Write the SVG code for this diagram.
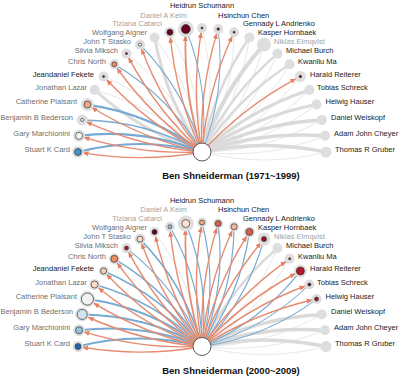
<svg xmlns="http://www.w3.org/2000/svg" width="399" height="378" viewBox="0 0 399 378">
<style>
text{font-family:"Liberation Sans",Arial,sans-serif;font-size:7.5px}
.e{text-anchor:end}
.m{text-anchor:middle}
.lg{fill:#6f6f6f}
.ll{fill:#a3a3a3}
.lk{fill:#1a1a1a}
.title{font-size:9.5px;font-weight:bold;text-anchor:middle;fill:#111}
.halo{fill:#dedede}
.in{stroke:#333;stroke-width:0.7}
.g{fill:none;stroke:#dadada;stroke-width:3}
.gt{fill:none;stroke:#e3e3e3;stroke-width:0.8}
.b{fill:none;stroke:#76aad2;stroke-width:1.2}
.bw{stroke-width:2.2}
.r{fill:none;stroke:#e58c70;stroke-width:1.4;marker-end:url(#ah)}
.hub{fill:#fff;stroke:#555;stroke-width:1}
</style>
<defs>
<marker id="ah" markerUnits="userSpaceOnUse" markerWidth="6" markerHeight="5" refX="5.6" refY="2.5" orient="auto" viewBox="0 0 6 5"><path d="M0,0L6,2.5L0,5Z" fill="#e67f60"/></marker>
</defs>

<g id="diagram-1971-1999">
<g id="connectors-top">
<path class="gt" d="M78,152A248,248 0 0,1 202,152" transform="rotate(30 202 152)"/>
<path class="gt" d="M78,152A248,248 0 0,1 202,152" transform="rotate(37.5 202 152)"/>
<path class="gt" d="M78,152A248,248 0 0,1 202,152" transform="rotate(52.5 202 152)"/>
<path class="gt" d="M78,152A248,248 0 0,1 202,152" transform="rotate(67.5 202 152)"/>
<path class="gt" d="M78,152A248,248 0 0,1 202,152" transform="rotate(75 202 152)"/>
<path class="gt" d="M78,152A248,248 0 0,1 202,152" transform="rotate(90 202 152)"/>
<path class="gt" d="M78,152A248,248 0 0,1 202,152" transform="rotate(105 202 152)"/>
<path class="gt" d="M78,152A248,248 0 0,1 202,152" transform="rotate(112.5 202 152)"/>
<path class="gt" d="M78,152A248,248 0 0,1 202,152" transform="rotate(120 202 152)"/>
<path class="gt" d="M78,152A248,248 0 0,1 202,152" transform="rotate(127.5 202 152)"/>
<path class="gt" d="M78,152A248,248 0 0,1 202,152" transform="rotate(135 202 152)"/>
<path class="gt" d="M78,152A248,248 0 0,1 202,152" transform="rotate(142.5 202 152)"/>
<path class="gt" d="M78,152A248,248 0 0,1 202,152" transform="rotate(150 202 152)"/>
<path class="gt" d="M78,152A248,248 0 0,1 202,152" transform="rotate(157.5 202 152)"/>
<path class="gt" d="M78,152A248,248 0 0,1 202,152" transform="rotate(165 202 152)"/>
<path class="gt" d="M78,152A248,248 0 0,1 202,152" transform="rotate(172.5 202 152)"/>
<path class="gt" d="M78,152A248,248 0 0,1 202,152" transform="rotate(180 202 152)"/>
<path class="g" d="M202,152A300,300 0 0,1 78,152" transform="rotate(30 202 152)"/>
<path class="g" d="M202,152A300,300 0 0,1 78,152" transform="rotate(67.5 202 152)"/>
<path class="g" d="M202,152A300,300 0 0,1 78,152" transform="rotate(112.5 202 152)" style="stroke-width:2.5"/>
<path class="g" d="M202,152A300,300 0 0,1 78,152" transform="rotate(120 202 152)" style="stroke-width:4"/>
<path class="g" d="M202,152A300,300 0 0,1 78,152" transform="rotate(127.5 202 152)" style="stroke-width:2.5"/>
<path class="g" d="M202,152A300,300 0 0,1 78,152" transform="rotate(135 202 152)" style="stroke-width:2.5"/>
<path class="g" d="M202,152A300,300 0 0,1 78,152" transform="rotate(150 202 152)"/>
<path class="g" d="M202,152A300,300 0 0,1 78,152" transform="rotate(157.5 202 152)"/>
<path class="g" d="M202,152A300,300 0 0,1 78,152" transform="rotate(165 202 152)" style="stroke-width:3.5"/>
<path class="g" d="M202,152A300,300 0 0,1 78,152" transform="rotate(172.5 202 152)" style="stroke-width:3.5"/>
<path class="g" d="M202,152A300,300 0 0,1 78,152" transform="rotate(180 202 152)" style="stroke-width:3.5"/>
<path class="b bw" d="M78,152A248,248 0 0,1 202,152"/>
<path class="b bw" d="M78,152A248,248 0 0,1 202,152" transform="rotate(7.5 202 152)"/>
<path class="b" d="M78,152A248,248 0 0,1 202,152" transform="rotate(15 202 152)" style="stroke-width:1.5"/>
<path class="b bw" d="M78,152A248,248 0 0,1 202,152" transform="rotate(22.5 202 152)"/>
<path class="b" d="M78,152A248,248 0 0,1 202,152" transform="rotate(45 202 152)"/>
<path class="b" d="M78,152A248,248 0 0,1 202,152" transform="rotate(60 202 152)"/>
<path class="b" d="M78,152A248,248 0 0,1 202,152" transform="rotate(82.5 202 152)" style="stroke-width:1"/>
<path class="b" d="M78,152A248,248 0 0,1 202,152" transform="rotate(97.5 202 152)" style="stroke-width:1"/>
<path class="r" d="M202,152A350,350 0 0,1 82.92,152.89"/>
<path class="r" d="M202,152A350,350 0 0,1 82.92,152.89" transform="rotate(7.5 202 152)"/>
<path class="r" d="M202,152A350,350 0 0,1 82.43,152.8" transform="rotate(15 202 152)"/>
<path class="r" d="M202,152A350,350 0 0,1 82.92,152.89" transform="rotate(22.5 202 152)"/>
<path class="r" d="M202,152A350,350 0 0,1 82.43,152.8" transform="rotate(37.5 202 152)"/>
<path class="r" d="M202,152A350,350 0 0,1 82.43,152.8" transform="rotate(45 202 152)"/>
<path class="r" d="M202,152A350,350 0 0,1 82.43,152.8" transform="rotate(52.5 202 152)"/>
<path class="r" d="M202,152A350,350 0 0,1 82.43,152.8" transform="rotate(60 202 152)"/>
<path class="r" d="M202,152A350,350 0 0,1 82.92,152.89" transform="rotate(75 202 152)"/>
<path class="r" d="M202,152A350,350 0 0,1 84.4,153.15" transform="rotate(82.5 202 152)" style="stroke-width:1.8"/>
<path class="r" d="M202,152A350,350 0 0,1 82.43,152.8" transform="rotate(90 202 152)"/>
<path class="r" d="M202,152A350,350 0 0,1 82.43,152.8" transform="rotate(97.5 202 152)"/>
<path class="r" d="M202,152A350,350 0 0,1 82.43,152.8" transform="rotate(105 202 152)"/>
<path class="r" d="M202,152A350,350 0 0,1 82.92,152.89" transform="rotate(142.5 202 152)"/>
</g>
<g id="t-stuart-k-card"><circle class="halo" cx="78" cy="152" r="6"/><circle class="in" cx="78" cy="152" r="3.5" fill="#4393c3"/><text class="e lg" x="70" y="151.9">Stuart K Card</text></g>
<g id="t-gary-marchionini"><circle class="halo" cx="79.06" cy="135.81" r="6"/><circle class="in" cx="79.06" cy="135.81" r="3.5" fill="#f7f7f7"/><text class="e lg" x="70" y="135.9">Gary Marchionini</text></g>
<g id="t-benjamin-b-bederson"><circle class="halo" cx="82.22" cy="119.91" r="5.5"/><circle class="in" cx="82.22" cy="119.91" r="1.6" fill="#f7f7f7"/><text class="e lg" x="73" y="119.9">Benjamin B Bederson</text></g>
<g id="t-catherine-plaisant"><circle class="halo" cx="87.44" cy="104.55" r="6.5"/><circle class="in" cx="87.44" cy="104.55" r="3.5" fill="#f4a582"/><text class="e lg" x="77" y="104.3">Catherine Plaisant</text></g>
<g id="t-jonathan-lazar"><circle class="halo" cx="94.61" cy="90" r="5"/><text class="e lg" x="87" y="90.3">Jonathan Lazar</text></g>
<g id="t-jeandaniel-fekete"><circle class="halo" cx="103.62" cy="76.51" r="5"/><circle class="in" cx="103.62" cy="76.51" r="1" fill="#67001f"/><text class="e lk" x="94" y="76.6">Jeandaniel Fekete</text></g>
<g id="t-chris-north"><circle class="halo" cx="114.32" cy="64.32" r="5"/><circle class="in" cx="114.32" cy="64.32" r="2.5" fill="#ef8a62"/><text class="e lg" x="106" y="64.3">Chris North</text></g>
<g id="t-silvia-miksch"><circle class="halo" cx="126.51" cy="53.62" r="5"/><circle class="in" cx="126.51" cy="53.62" r="1" fill="#67001f"/><text class="e lg" x="118" y="53.3">Silvia Miksch</text></g>
<g id="t-john-t-stasko"><circle class="halo" cx="140" cy="44.61" r="5"/><circle class="in" cx="140" cy="44.61" r="1.6" fill="#f7f7f7"/><text class="e lg" x="131" y="44.3">John T Stasko</text></g>
<g id="t-wolfgang-aigner"><circle class="halo" cx="154.55" cy="37.44" r="5"/><text class="e lg" x="147" y="35.4">Wolfgang Aigner</text></g>
<g id="t-tiziana-catarci"><circle class="halo" cx="169.91" cy="32.22" r="5.5"/><circle class="in" cx="169.91" cy="32.22" r="3" fill="#67001f"/><text class="e ll" x="162" y="26.4">Tiziana Catarci</text></g>
<g id="t-daniel-a-keim"><circle class="halo" cx="185.81" cy="29.06" r="8"/><circle class="in" cx="185.81" cy="29.06" r="4.5" fill="#67001f"/><text class="e ll" x="187" y="17.6">Daniel A Keim</text></g>
<g id="t-heidrun-schumann"><circle class="halo" cx="202" cy="28" r="5"/><circle class="in" cx="202" cy="28" r="1" fill="#67001f"/><text class="m lk" x="202" y="8.4">Heidrun Schumann</text></g>
<g id="t-hsinchun-chen"><circle class="halo" cx="218.19" cy="29.06" r="5"/><circle class="in" cx="218.19" cy="29.06" r="1.2" fill="#67001f"/><text class="lk" x="218" y="17.6">Hsinchun Chen</text></g>
<g id="t-gennady-l-andrienko"><circle class="halo" cx="234.09" cy="32.22" r="5"/><circle class="in" cx="234.09" cy="32.22" r="1" fill="#67001f"/><text class="lk" x="243" y="26.4">Gennady L Andrienko</text></g>
<g id="t-kasper-hornbaek"><circle class="halo" cx="249.45" cy="37.44" r="5"/><text class="lk" x="258" y="35.4">Kasper Hornbaek</text></g>
<g id="t-niklas-elmqvist"><circle class="halo" cx="264" cy="44.61" r="7"/><text class="ll" x="274" y="44.3">Niklas Elmqvist</text></g>
<g id="t-michael-burch"><circle class="halo" cx="277.49" cy="53.62" r="5"/><text class="lk" x="286" y="53.3">Michael Burch</text></g>
<g id="t-kwanliu-ma"><circle class="halo" cx="289.68" cy="64.32" r="5"/><text class="lk" x="298" y="64.3">Kwanliu Ma</text></g>
<g id="t-harald-reiterer"><circle class="halo" cx="300.38" cy="76.51" r="5.5"/><circle class="in" cx="300.38" cy="76.51" r="1.2" fill="#67001f"/><text class="lk" x="310" y="76.6">Harald Reiterer</text></g>
<g id="t-tobias-schreck"><circle class="halo" cx="309.39" cy="90" r="5"/><text class="lk" x="317" y="90.3">Tobias Schreck</text></g>
<g id="t-helwig-hauser"><circle class="halo" cx="316.56" cy="104.55" r="5"/><text class="lk" x="325.5" y="104.3">Helwig Hauser</text></g>
<g id="t-daniel-weiskopf"><circle class="halo" cx="321.78" cy="119.91" r="5"/><text class="lk" x="331" y="119.9">Daniel Weiskopf</text></g>
<g id="t-adam-john-cheyer"><circle class="halo" cx="324.94" cy="135.81" r="5"/><text class="lk" x="334" y="135.9">Adam John Cheyer</text></g>
<g id="t-thomas-r-gruber"><circle class="halo" cx="326" cy="152" r="5.5"/><text class="lk" x="335" y="151.9">Thomas R Gruber</text></g>
<g id="t-ben-shneiderman"><circle class="hub" cx="202" cy="152" r="9"/><text class="title" x="231" y="179.4">Ben Shneiderman (1971~1999)</text></g>
</g>

<g id="diagram-2000-2009" transform="translate(0,194.5)">
<g id="connectors-bottom">
<path class="gt" d="M78,152A248,248 0 0,1 202,152" transform="rotate(67.5 202 152)"/>
<path class="gt" d="M78,152A248,248 0 0,1 202,152" transform="rotate(127.5 202 152)"/>
<path class="gt" d="M78,152A248,248 0 0,1 202,152" transform="rotate(135 202 152)"/>
<path class="gt" d="M78,152A248,248 0 0,1 202,152" transform="rotate(165 202 152)"/>
<path class="gt" d="M78,152A248,248 0 0,1 202,152" transform="rotate(172.5 202 152)"/>
<path class="gt" d="M78,152A248,248 0 0,1 202,152" transform="rotate(180 202 152)"/>
<path class="g" d="M202,152A300,300 0 0,1 78,152" transform="rotate(127.5 202 152)" style="stroke-width:2.5"/>
<path class="g" d="M202,152A300,300 0 0,1 78,152" transform="rotate(165 202 152)" style="stroke-width:3.5"/>
<path class="g" d="M202,152A300,300 0 0,1 78,152" transform="rotate(172.5 202 152)" style="stroke-width:3.5"/>
<path class="g" d="M202,152A300,300 0 0,1 78,152" transform="rotate(180 202 152)" style="stroke-width:3.5"/>
<path class="b bw" d="M78,152A248,248 0 0,1 202,152"/>
<path class="b bw" d="M78,152A248,248 0 0,1 202,152" transform="rotate(7.5 202 152)" style="stroke-width:2"/>
<path class="b bw" d="M78,152A248,248 0 0,1 202,152" transform="rotate(15 202 152)" style="stroke-width:2"/>
<path class="b bw" d="M78,152A248,248 0 0,1 202,152" transform="rotate(22.5 202 152)" style="stroke-width:2"/>
<path class="b" d="M78,152A248,248 0 0,1 202,152" transform="rotate(30 202 152)" style="stroke-width:1.5"/>
<path class="b" d="M78,152A248,248 0 0,1 202,152" transform="rotate(37.5 202 152)" style="stroke-width:1.5"/>
<path class="b" d="M78,152A248,248 0 0,1 202,152" transform="rotate(45 202 152)" style="stroke-width:1.5"/>
<path class="b" d="M78,152A248,248 0 0,1 202,152" transform="rotate(52.5 202 152)"/>
<path class="b" d="M78,152A248,248 0 0,1 202,152" transform="rotate(60 202 152)" style="stroke-width:1.5"/>
<path class="b" d="M78,152A248,248 0 0,1 202,152" transform="rotate(75 202 152)"/>
<path class="b" d="M78,152A248,248 0 0,1 202,152" transform="rotate(82.5 202 152)"/>
<path class="b" d="M78,152A248,248 0 0,1 202,152" transform="rotate(90 202 152)"/>
<path class="b" d="M78,152A248,248 0 0,1 202,152" transform="rotate(97.5 202 152)"/>
<path class="b" d="M78,152A248,248 0 0,1 202,152" transform="rotate(105 202 152)"/>
<path class="b" d="M78,152A248,248 0 0,1 202,152" transform="rotate(112.5 202 152)"/>
<path class="b" d="M78,152A248,248 0 0,1 202,152" transform="rotate(120 202 152)"/>
<path class="b" d="M78,152A248,248 0 0,1 202,152" transform="rotate(142.5 202 152)"/>
<path class="b" d="M78,152A248,248 0 0,1 202,152" transform="rotate(150 202 152)" style="stroke-width:1"/>
<path class="b" d="M78,152A248,248 0 0,1 202,152" transform="rotate(157.5 202 152)" style="stroke-width:1"/>
<path class="r" d="M202,152A350,350 0 0,1 82.43,152.8"/>
<path class="r" d="M202,152A350,350 0 0,1 82.92,152.89" transform="rotate(7.5 202 152)"/>
<path class="r" d="M202,152A350,350 0 0,1 84.4,153.15" transform="rotate(15 202 152)" style="stroke-width:1.7"/>
<path class="r" d="M202,152A350,350 0 0,1 85.38,153.33" transform="rotate(22.5 202 152)" style="stroke-width:1.7"/>
<path class="r" d="M202,152A350,350 0 0,1 82.92,152.89" transform="rotate(30 202 152)"/>
<path class="r" d="M202,152A350,350 0 0,1 82.43,152.8" transform="rotate(37.5 202 152)"/>
<path class="r" d="M202,152A350,350 0 0,1 82.92,152.89" transform="rotate(45 202 152)"/>
<path class="r" d="M202,152A350,350 0 0,1 82.43,152.8" transform="rotate(52.5 202 152)"/>
<path class="r" d="M202,152A350,350 0 0,1 82.43,152.8" transform="rotate(60 202 152)"/>
<path class="r" d="M202,152A350,350 0 0,1 82.43,152.8" transform="rotate(67.5 202 152)"/>
<path class="r" d="M202,152A350,350 0 0,1 82.43,152.8" transform="rotate(75 202 152)"/>
<path class="r" d="M202,152A350,350 0 0,1 83.9,153.06" transform="rotate(82.5 202 152)" style="stroke-width:1.7"/>
<path class="r" d="M202,152A350,350 0 0,1 82.43,152.8" transform="rotate(90 202 152)"/>
<path class="r" d="M202,152A350,350 0 0,1 82.43,152.8" transform="rotate(97.5 202 152)"/>
<path class="r" d="M202,152A350,350 0 0,1 82.43,152.8" transform="rotate(105 202 152)"/>
<path class="r" d="M202,152A350,350 0 0,1 82.92,152.89" transform="rotate(112.5 202 152)"/>
<path class="r" d="M202,152A350,350 0 0,1 82.43,152.8" transform="rotate(120 202 152)"/>
<path class="r" d="M202,152A350,350 0 0,1 82.43,152.8" transform="rotate(135 202 152)"/>
<path class="r" d="M202,152A350,350 0 0,1 83.41,152.97" transform="rotate(142.5 202 152)" style="stroke-width:1.7"/>
<path class="r" d="M202,152A350,350 0 0,1 82.43,152.8" transform="rotate(150 202 152)"/>
<path class="r" d="M202,152A350,350 0 0,1 82.43,152.8" transform="rotate(157.5 202 152)"/>
</g>
<g id="b-stuart-k-card"><circle class="halo" cx="78" cy="152" r="5.5"/><circle class="in" cx="78" cy="152" r="3" fill="#2166ac"/><text class="e lg" x="70" y="151.9">Stuart K Card</text></g>
<g id="b-gary-marchionini"><circle class="halo" cx="79.06" cy="135.81" r="6"/><circle class="in" cx="79.06" cy="135.81" r="3.5" fill="#92c5de"/><text class="e lg" x="70" y="135.9">Gary Marchionini</text></g>
<g id="b-benjamin-b-bederson"><circle class="halo" cx="82.22" cy="119.91" r="7"/><circle class="in" cx="82.22" cy="119.91" r="5" fill="#d1e5f0"/><text class="e lg" x="73" y="119.9">Benjamin B Bederson</text></g>
<g id="b-catherine-plaisant"><circle class="halo" cx="87.44" cy="104.55" r="8"/><circle class="in" cx="87.44" cy="104.55" r="6" fill="#f2f2f2"/><text class="e lg" x="77" y="104.3">Catherine Plaisant</text></g>
<g id="b-jonathan-lazar"><circle class="halo" cx="94.61" cy="90" r="5.5"/><circle class="in" cx="94.61" cy="90" r="3.5" fill="#fddbc7"/><text class="e lg" x="87" y="90.3">Jonathan Lazar</text></g>
<g id="b-jeandaniel-fekete"><circle class="halo" cx="103.62" cy="76.51" r="5"/><circle class="in" cx="103.62" cy="76.51" r="3" fill="#fbcfb8"/><text class="e lk" x="94" y="76.6">Jeandaniel Fekete</text></g>
<g id="b-chris-north"><circle class="halo" cx="114.32" cy="64.32" r="5.5"/><circle class="in" cx="114.32" cy="64.32" r="3.5" fill="#ef8a62"/><text class="e lg" x="106" y="64.3">Chris North</text></g>
<g id="b-silvia-miksch"><circle class="halo" cx="126.51" cy="53.62" r="5"/><circle class="in" cx="126.51" cy="53.62" r="2" fill="#b2182b"/><text class="e lg" x="118" y="53.3">Silvia Miksch</text></g>
<g id="b-john-t-stasko"><circle class="halo" cx="140" cy="44.61" r="5.5"/><circle class="in" cx="140" cy="44.61" r="3" fill="#fddbc7"/><text class="e lg" x="131" y="44.3">John T Stasko</text></g>
<g id="b-wolfgang-aigner"><circle class="halo" cx="154.55" cy="37.44" r="5"/><circle class="in" cx="154.55" cy="37.44" r="2.5" fill="#67001f"/><text class="e lg" x="147" y="35.4">Wolfgang Aigner</text></g>
<g id="b-tiziana-catarci"><circle class="halo" cx="169.91" cy="32.22" r="5"/><circle class="in" cx="169.91" cy="32.22" r="2" fill="#92c5de"/><text class="e ll" x="162" y="26.4">Tiziana Catarci</text></g>
<g id="b-daniel-a-keim"><circle class="halo" cx="185.81" cy="29.06" r="8"/><circle class="in" cx="185.81" cy="29.06" r="4" fill="#fde0d2"/><text class="e ll" x="187" y="17.6">Daniel A Keim</text></g>
<g id="b-heidrun-schumann"><circle class="halo" cx="202" cy="28" r="5"/><circle class="in" cx="202" cy="28" r="2.5" fill="#f4a582"/><text class="m lk" x="202" y="8.4">Heidrun Schumann</text></g>
<g id="b-hsinchun-chen"><circle class="halo" cx="218.19" cy="29.06" r="5"/><circle class="in" cx="218.19" cy="29.06" r="3" fill="#d6604d"/><text class="lk" x="218" y="17.6">Hsinchun Chen</text></g>
<g id="b-gennady-l-andrienko"><circle class="halo" cx="234.09" cy="32.22" r="5"/><circle class="in" cx="234.09" cy="32.22" r="3" fill="#f7b799"/><text class="lk" x="243" y="26.4">Gennady L Andrienko</text></g>
<g id="b-kasper-hornbaek"><circle class="halo" cx="249.45" cy="37.44" r="5.5"/><circle class="in" cx="249.45" cy="37.44" r="3.5" fill="#d6604d"/><text class="lk" x="258" y="35.4">Kasper Hornbaek</text></g>
<g id="b-niklas-elmqvist"><circle class="halo" cx="264" cy="44.61" r="6.5"/><circle class="in" cx="264" cy="44.61" r="2.5" fill="#a50f2b"/><text class="ll" x="274" y="44.3">Niklas Elmqvist</text></g>
<g id="b-michael-burch"><circle class="halo" cx="277.49" cy="53.62" r="5"/><text class="lk" x="286" y="53.3">Michael Burch</text></g>
<g id="b-kwanliu-ma"><circle class="halo" cx="289.68" cy="64.32" r="5"/><circle class="in" cx="289.68" cy="64.32" r="1" fill="#67001f"/><text class="lk" x="298" y="64.3">Kwanliu Ma</text></g>
<g id="b-harald-reiterer"><circle class="halo" cx="300.38" cy="76.51" r="6.5"/><circle class="in" cx="300.38" cy="76.51" r="4" fill="#b2182b"/><text class="lk" x="310" y="76.6">Harald Reiterer</text></g>
<g id="b-tobias-schreck"><circle class="halo" cx="309.39" cy="90" r="5"/><circle class="in" cx="309.39" cy="90" r="1.5" fill="#67001f"/><text class="lk" x="317" y="90.3">Tobias Schreck</text></g>
<g id="b-helwig-hauser"><circle class="halo" cx="316.56" cy="104.55" r="5"/><circle class="in" cx="316.56" cy="104.55" r="2" fill="#a50f2b"/><text class="lk" x="325.5" y="104.3">Helwig Hauser</text></g>
<g id="b-daniel-weiskopf"><circle class="halo" cx="321.78" cy="119.91" r="5"/><text class="lk" x="331" y="119.9">Daniel Weiskopf</text></g>
<g id="b-adam-john-cheyer"><circle class="halo" cx="324.94" cy="135.81" r="5"/><text class="lk" x="334" y="135.9">Adam John Cheyer</text></g>
<g id="b-thomas-r-gruber"><circle class="halo" cx="326" cy="152" r="5.5"/><text class="lk" x="335" y="151.9">Thomas R Gruber</text></g>
<g id="b-ben-shneiderman"><circle class="hub" cx="202" cy="152" r="9"/><text class="title" x="231" y="179.4">Ben Shneiderman (2000~2009)</text></g>
</g>
</svg>
